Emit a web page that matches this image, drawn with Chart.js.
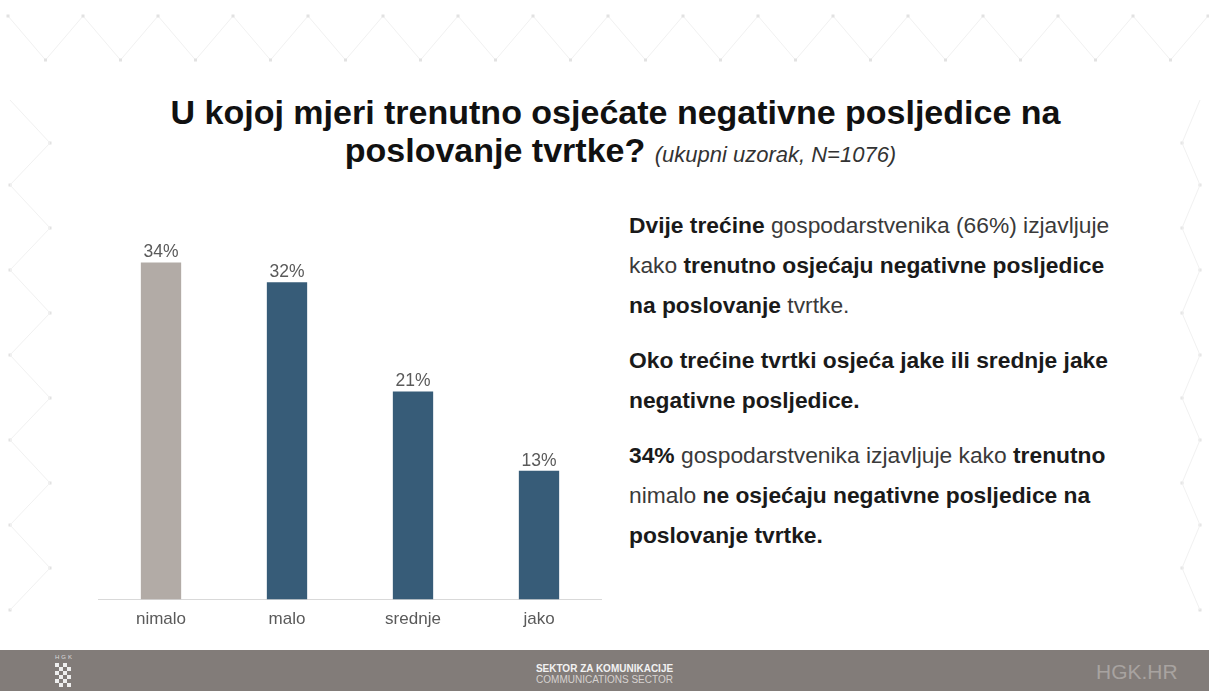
<!DOCTYPE html>
<html>
<head>
<meta charset="utf-8">
<script src="https://cdn.jsdelivr.net/npm/chart.js@4"></script>
<style>
  html, body { margin:0; padding:0; width:1209px; height:691px; overflow:hidden; background:#fff;
    font-family:"Liberation Sans", Arial, sans-serif; }
  #bg { position:absolute; left:0; top:0; }
  #title { position:absolute; left:0; width:1231px; top:93px; text-align:center; color:#111;
    font-weight:bold; font-size:34px; line-height:38px; }
  #title .l2 { display:inline-block; margin-left:10px; }
  #title i { font-weight:normal; font-size:22px; color:#333; }
  #chartbox { position:absolute; left:98px; top:203px; width:504px; height:437px; }
  #txt { position:absolute; left:629px; top:205px; font-size:22.8px; line-height:40px; color:#3a3a3a; white-space:nowrap; }
  #txt p { margin:0 0 15px 0; }
  #txt b { color:#1a1a1a; }
  #footer { position:absolute; left:0; top:650px; width:1209px; height:41px; background:#827c79; }
  #footer .c1 { position:absolute; left:0; width:1209px; top:13px; text-align:center; font-size:10px; font-weight:bold; color:#f2f2f2; line-height:11px; }
  #footer .c2 { position:absolute; left:0; width:1209px; top:24px; text-align:center; font-size:10px; color:#d6d2d0; line-height:11px; }
  #footer .hr { position:absolute; left:1096px; top:10px; font-size:21px; color:#a8a3a0; line-height:24px; }
  #footer .hgk { position:absolute; left:55px; top:4px; font-size:6px; color:#ddd; letter-spacing:2px; }
</style>
</head>
<body>
<svg id="bg" width="1209" height="691"></svg>
<div id="title">U kojoj mjeri trenutno osjećate negativne posljedice na<br><span class="l2">poslovanje tvrtke? <i>(ukupni uzorak, N=1076)</i></span></div>
<div id="chartbox"><canvas id="c"></canvas></div>
<div id="txt">
  <p><b>Dvije trećine</b> gospodarstvenika (66%) izjavljuje<br>kako <b>trenutno osjećaju negativne posljedice</b><br><b>na poslovanje</b> tvrtke.</p>
  <p><b>Oko trećine tvrtki osjeća jake ili srednje jake</b><br><b>negativne posljedice.</b></p>
  <p><b>34%</b> gospodarstvenika izjavljuje kako <b>trenutno</b><br>nimalo <b>ne osjećaju negativne posljedice na</b><br><b>poslovanje tvrtke.</b></p>
</div>
<div id="footer">
  <div class="hgk">HGK</div>
  <svg style="position:absolute;left:54px;top:13px" width="18" height="28" id="chk"></svg>
  <div class="c1">SEKTOR ZA KOMUNIKACIJE</div>
  <div class="c2">COMMUNICATIONS SECTOR</div>
  <div class="hr">HGK.HR</div>
</div>
<script>
// ---- data ----
const categories = ["nimalo", "malo", "srednje", "jako"];
const values = [34, 32, 21, 13];
const barColors = ["#b2aba6", "#375c78", "#375c78", "#375c78"];

// ---- decorative background ----
(function(){
  const ns = "http://www.w3.org/2000/svg";
  const svg = document.getElementById("bg");
  function line(x1,y1,x2,y2){ const l=document.createElementNS(ns,"line");
    l.setAttribute("x1",x1);l.setAttribute("y1",y1);l.setAttribute("x2",x2);l.setAttribute("y2",y2);
    l.setAttribute("stroke","#f1f1f1");l.setAttribute("stroke-width","1"); svg.appendChild(l); }
  function dot(x,y){ const c=document.createElementNS(ns,"rect");
    c.setAttribute("x",x-1.5);c.setAttribute("y",y-1.5);c.setAttribute("width",3);c.setAttribute("height",3);
    c.setAttribute("fill","#e2e2e2"); svg.appendChild(c); }
  for (let x=8; x<1209; x+=75) { line(x,16,x+37.5,60); line(x+37.5,60,x+75,16); }
  for (let x=8; x<1209; x+=75) { dot(x,16); dot(x+37.5,60); }
  const ys = [143, 228, 313, 398, 483, 568];
  ys.forEach((y,i)=>{ dot(50,y); dot(1182,y); dot(10,y+42); dot(1200,y+42);
    line(50,y,10,y+42); line(10,y-43,50,y); line(1182,y,1200,y+42); line(1200,y-43,1182,y); });
  const chk = document.getElementById("chk");
  for (let r=0;r<6;r++) for (let c=0;c<4;c++) if ((r+c)%2===0) {
    const q=document.createElementNS(ns,"rect"); q.setAttribute("x",c*4+1); q.setAttribute("y",r*4);
    q.setAttribute("width",4); q.setAttribute("height",4); q.setAttribute("fill","#eeeeee"); chk.appendChild(q); }
})();

// ---- chart ----
const labelPlugin = {
  id: "valueLabels",
  afterDatasetsDraw(chart) {
    const ctx = chart.ctx;
    const meta = chart.getDatasetMeta(0);
    ctx.save();
    ctx.font = "17.5px 'Liberation Sans', Arial, sans-serif";
    ctx.fillStyle = "#5a5a5a";
    ctx.textAlign = "center";
    ctx.textBaseline = "middle";
    meta.data.forEach((bar, i) => {
      ctx.fillText(values[i] + "%", bar.x, bar.y - 10);
    });
    ctx.restore();
  }
};

new Chart(document.getElementById("c"), {
  type: "bar",
  data: {
    labels: categories,
    datasets: [{ data: values, backgroundColor: barColors, borderWidth: 0,
      barPercentage: 0.32, categoryPercentage: 1 }]
  },
  options: {
    responsive: true,
    maintainAspectRatio: false,
    animation: false,
    layout: { padding: 0 },
    plugins: { legend: { display: false }, tooltip: { enabled: false } },
    scales: {
      x: {
        grid: { display: false, drawTicks: false },
        border: { display: true, color: "#d9d9d9", width: 1 },
        ticks: { color: "#5a5a5a", padding: 10, font: { size: 17, family: "'Liberation Sans', Arial, sans-serif" } }
      },
      y: { display: false, min: 0, max: 40 }
    }
  },
  plugins: [labelPlugin]
});
</script>
</body>
</html>
